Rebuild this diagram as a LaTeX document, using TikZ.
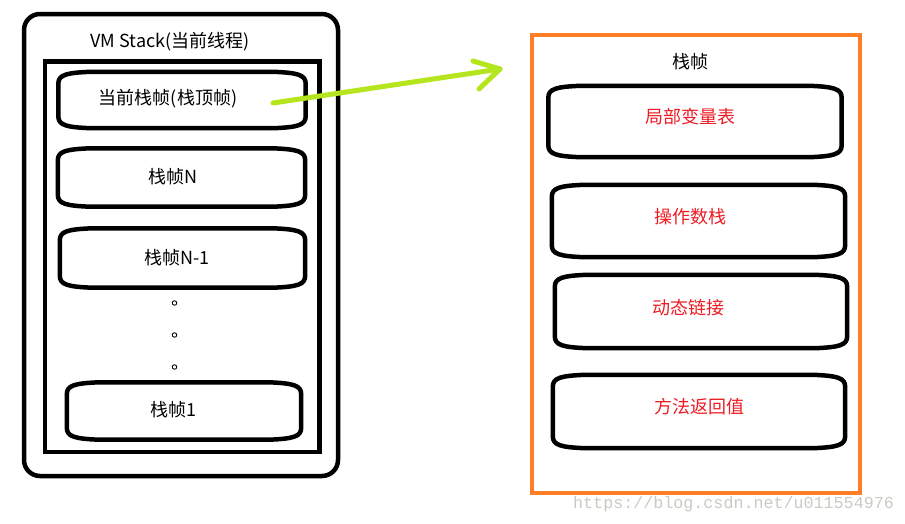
\documentclass[tikz,border=0pt]{standalone}
\usepackage{fontspec}
\usetikzlibrary{calc}
\setmainfont{Noto Sans CJK SC}
\newfontfamily\wmfont{Liberation Mono}
\definecolor{orng}{RGB}{255,127,39}
\definecolor{lime}{RGB}{181,230,29}
\definecolor{redtxt}{RGB}{237,28,36}
\definecolor{wmgray}{RGB}{205,202,195}
\newcommand\bulgeframe[1]{%
  \draw[line width=4.5pt,line join=round]
    ($(#1.north west)+(32,0)$) -- ($(#1.north east)+(-32,0)$)
    .. controls ($(#1.north east)+(-8,1)$) and ($(#1.north east)+(0,3)$) .. ($(#1.north east)+(0,12)$)
    -- ($(#1.south east)+(0,-12)$)
    .. controls ($(#1.south east)+(0,-3)$) and ($(#1.south east)+(-8,-1)$) .. ($(#1.south east)+(-32,0)$)
    -- ($(#1.south west)+(32,0)$)
    .. controls ($(#1.south west)+(8,-1)$) and ($(#1.south west)+(0,-3)$) .. ($(#1.south west)+(0,-12)$)
    -- ($(#1.north west)+(0,12)$)
    .. controls ($(#1.north west)+(0,3)$) and ($(#1.north west)+(8,1)$) .. cycle;}
\begin{document}
\begin{tikzpicture}[x=1pt,y=-1pt,
  framebox/.style={draw=none,inner sep=0pt},
  lbl/.style={font=\fontsize{18}{20}\selectfont},
  dotmark/.style={draw=black,line width=0.9pt,circle,inner sep=0pt,minimum size=4.5pt}]
\useasboundingbox (0,0) rectangle (905,523);
\fill[white] (0,0) rectangle (905,523);
% left column
\draw[line width=4.5pt,rounded corners=16pt] (24,14) rectangle (338,476);
\draw[line width=4.5pt] (45,61.5) rectangle (319.5,452);
\node[lbl] (vm) at (170,42) {VM Stack(当前线程)};
\node[framebox,minimum width=247pt,minimum height=56pt] (top) at (182,100) {};
\bulgeframe{top}
\node[lbl] (toplbl) at (168,99) {当前栈帧(栈顶帧)};
\node[framebox,minimum width=247pt,minimum height=58pt] (fn) at (181.5,177.5) {};
\bulgeframe{fn}
\node[lbl] (fnlbl) at (173,177) {栈帧N};
\node[framebox,minimum width=245pt,minimum height=59pt] (fn1) at (182.5,258) {};
\bulgeframe{fn1}
\node[lbl] (fn1lbl) at (177,258) {栈帧N-1};
\node[dotmark] (d1) at (174.5,303) {};
\node[dotmark] (d2) at (174.5,335) {};
\node[dotmark] (d3) at (174.5,367) {};
\node[framebox,minimum width=234pt,minimum height=57pt] (f1) at (184,411) {};
\bulgeframe{f1}
\node[lbl] (f1lbl) at (173,410) {栈帧1};
% right column
\draw[orng,line width=4.5pt] (532,35) rectangle (860,493);
\node[lbl] (sf) at (690,62) {栈帧};
\node[framebox,minimum width=293pt,minimum height=71pt] (lv) at (695,121.5) {};
\bulgeframe{lv}
\node[lbl,text=redtxt] (lvlbl) at (690,117) {局部变量表};
\node[framebox,minimum width=293pt,minimum height=72pt] (os) at (698.5,221) {};
\bulgeframe{os}
\node[lbl,text=redtxt] (oslbl) at (690,217) {操作数栈};
\node[framebox,minimum width=292pt,minimum height=73pt] (dl) at (701,311.5) {};
\bulgeframe{dl}
\node[lbl,text=redtxt] (dllbl) at (688,308) {动态链接};
\node[framebox,minimum width=292pt,minimum height=73pt] (rv) at (699,411.5) {};
\bulgeframe{rv}
\node[lbl,text=redtxt] (rvlbl) at (699,407) {方法返回值};
% arrow
\coordinate (aS) at (273,103);
\coordinate (aE) at (500,69);
\coordinate (h1) at (473,61);
\coordinate (h2) at (479,89);
\draw[lime,line width=5pt,line cap=round,line join=round] (aS) -- (aE);
\draw[lime,line width=5pt,line cap=round,line join=round] (h1) -- (aE) -- (h2);
% watermark
\node[anchor=base west,inner sep=0pt,text=wmgray,font=\wmfont\fontsize{16.7}{18}\selectfont] (wm) at (573,508) {https://blog.csdn.net/u011554976};
\end{tikzpicture}
\end{document}
